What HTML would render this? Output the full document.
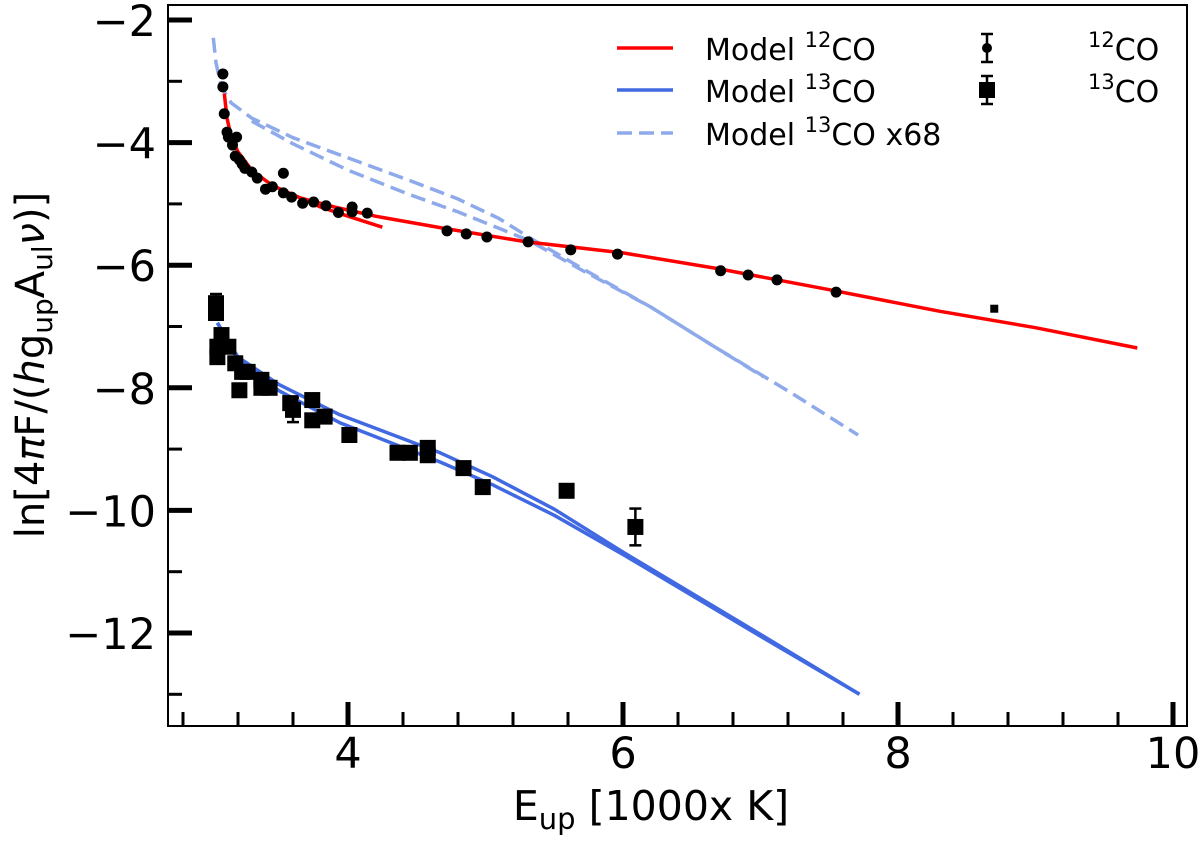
<!DOCTYPE html>
<html><head><meta charset="utf-8"><style>
body{margin:0;background:#fff}
svg{display:block;font-family:"DejaVu Sans","Liberation Sans",sans-serif}
</style></head><body>
<svg id="chart" width="1200" height="841"></svg>
<script>
const co12X=[3.09,3.09,3.10,3.12,3.13,3.19,3.16,3.18,3.21,3.23,3.25,3.30,3.34,3.40,3.45,3.53,3.53,3.59,3.67,3.75,3.84,3.93,4.03,4.03,4.14,4.72,4.86,5.01,5.31,5.62,5.96,6.71,6.91,7.12,7.55,8.70];
const co12Y=[-2.88,-3.09,-3.53,-3.83,-3.91,-3.91,-4.04,-4.22,-4.28,-4.35,-4.42,-4.48,-4.58,-4.76,-4.72,-4.50,-4.82,-4.89,-4.99,-4.97,-5.03,-5.14,-5.05,-5.13,-5.15,-5.44,-5.49,-5.54,-5.62,-5.75,-5.82,-6.09,-6.16,-6.24,-6.44,-6.71];
const co13X=[3.04,3.04,3.08,3.05,3.13,3.05,3.18,3.23,3.27,3.21,3.37,3.43,3.37,3.58,3.60,3.74,3.74,3.83,4.01,4.36,4.45,4.58,4.58,4.84,4.98,5.59,6.09];
const co13Y=[-6.62,-6.78,-7.14,-7.33,-7.33,-7.50,-7.60,-7.74,-7.74,-8.04,-7.87,-8.00,-8.00,-8.25,-8.36,-8.20,-8.53,-8.47,-8.77,-9.06,-9.06,-8.98,-9.10,-9.31,-9.62,-9.68,-10.27];
const co13Err=[0.15,0.1,0.1,0.1,0.1,0.1,0.1,0.1,0.1,0.1,0.1,0.1,0.1,0.1,0.2,0.1,0.1,0.1,0.1,0.1,0.1,0.1,0.1,0.1,0.1,0.1,0.3];
const red1X=[3.10,3.12,3.15,3.20,3.30,3.45,3.65,3.90,4.20,4.70,5.30,6.00,6.70,7.50,8.30,9.00,9.74];
const red1Y=[-3.20,-3.60,-3.90,-4.15,-4.45,-4.70,-4.90,-5.05,-5.20,-5.40,-5.62,-5.80,-6.06,-6.40,-6.75,-7.02,-7.35];
const red2X=[3.60,3.80,4.00,4.25];
const red2Y=[-4.85,-5.05,-5.20,-5.38];
const dashAX=[3.02,3.04,3.08,3.15,3.30,3.60,4.00,4.45,4.80,5.10,5.32,5.70,6.20,6.68,7.20,7.71];
const dashAY=[-2.29,-2.70,-3.10,-3.35,-3.60,-3.92,-4.25,-4.62,-4.92,-5.24,-5.55,-6.05,-6.68,-7.35,-8.05,-8.77];
const dashBX=[3.30,3.60,4.00,4.45,4.80,5.10,5.32,5.70,6.20,6.68,7.02];
const dashBY=[-3.65,-4.02,-4.45,-4.85,-5.13,-5.40,-5.60,-6.08,-6.68,-7.35,-7.82];
const blueAX=[3.05,3.20,3.50,3.94,4.67,5.05,5.50,6.00,7.02,7.72];
const blueAY=[-6.94,-7.50,-7.95,-8.44,-9.06,-9.45,-9.98,-10.68,-12.05,-13.00];
const blueBX=[3.05,3.20,3.50,3.94,4.67,5.05,5.50,6.00,7.02,7.72];
const blueBY=[-6.94,-7.55,-8.05,-8.57,-9.21,-9.58,-10.08,-10.72,-12.08,-13.00];
const xMajor=[4,6,8,10];
const xMajorLabels=["4","6","8","10"];
const yMajor=[-2,-4,-6,-8,-10,-12];
const yMajorLabels=["\u22122","\u22124","\u22126","\u22128","\u221210","\u221212"];

const L=168,R=1187,T=5,B=726;
const sx=v=>348+(v-4)*137.5;
const sy=v=>20-(v+2)*61.3;
const svg=document.getElementById('chart');
const NS='http://www.w3.org/2000/svg';
function mk(tag,attrs,parent){const e=document.createElementNS(NS,tag);for(const k in attrs)e.setAttribute(k,attrs[k]);(parent||svg).appendChild(e);return e;}
function pathD(xs,ys){return xs.map((x,i)=>(i?'L':'M')+sx(x).toFixed(1)+','+sy(ys[i]).toFixed(1)).join(' ');}

let e;
e=mk('path',{d:pathD(dashAX,dashAY),fill:'none',stroke:'#8eaaea','stroke-width':3.5,'stroke-dasharray':'15,7','stroke-linejoin':'round'});


e=mk('path',{d:pathD(dashBX,dashBY),fill:'none',stroke:'#8eaaea','stroke-width':3.5,'stroke-dasharray':'15,7','stroke-linejoin':'round'});


e=mk('path',{d:pathD(blueAX,blueAY),fill:'none',stroke:'#4169e1','stroke-width':3.5,'stroke-linejoin':'round'});


e=mk('path',{d:pathD(blueBX,blueBY),fill:'none',stroke:'#4169e1','stroke-width':3.5,'stroke-linejoin':'round'});


e=mk('path',{d:pathD(red1X,red1Y),fill:'none',stroke:'#ff0000','stroke-width':3.5,'stroke-linejoin':'round'});


e=mk('path',{d:pathD(red2X,red2Y),fill:'none',stroke:'#ff0000','stroke-width':3.5,'stroke-linejoin':'round'});



co12X.forEach((x,i)=>{
  const last=i===co12X.length-1;
  const p=last?mk('rect',{x:sx(x)-4,y:sy(co12Y[i])-4,width:8,height:8,fill:'#000'}):mk('circle',{cx:sx(x),cy:sy(co12Y[i]),r:5.5,fill:'#000'});
  
  
});
co13X.forEach((x,i)=>{
  const cx=sx(x),cy=sy(co13Y[i]),y1=sy(co13Y[i]+co13Err[i]),y2=sy(co13Y[i]-co13Err[i]);
  const g=mk('g',{});
  
  
  mk('line',{x1:cx,x2:cx,y1:y1,y2:y2,stroke:'#000','stroke-width':2.5},g);
  mk('line',{x1:cx-6,x2:cx+6,y1:y1,y2:y1,stroke:'#000','stroke-width':2.5},g);
  mk('line',{x1:cx-6,x2:cx+6,y1:y2,y2:y2,stroke:'#000','stroke-width':2.5},g);
  mk('rect',{x:cx-8,y:cy-8,width:16,height:16,fill:'#000'},g);
});

e=mk('rect',{x:L,y:T,width:R-L,height:B-T,fill:'none',stroke:'#000','stroke-width':2});



for(let v=2.8;v<10.15;v+=0.4){
  const vv=Math.round(v*10)/10;
  if(Math.abs(vv-Math.round(vv))<1e-6 && Math.round(vv)%2===0) continue;
  e=mk('line',{x1:sx(vv),x2:sx(vv),y1:B,y2:B-14,stroke:'#000','stroke-width':3});
  
  
}
xMajor.forEach((v,i)=>{
  e=mk('line',{x1:sx(v),x2:sx(v),y1:B,y2:B-24,stroke:'#000','stroke-width':5});
  
  
  e=mk('text',{x:sx(v),y:768,'font-size':43,'text-anchor':'middle'});
  e.textContent=xMajorLabels[i];
  
  
});
for(let v=-3;v>=-13;v-=2){
  e=mk('line',{x1:L,x2:L+14,y1:sy(v),y2:sy(v),stroke:'#000','stroke-width':3});
  
  
}
yMajor.forEach((v,i)=>{
  e=mk('line',{x1:L,x2:L+24,y1:sy(v),y2:sy(v),stroke:'#000','stroke-width':5});
  
  
  e=mk('text',{x:156,y:sy(v)+16,'font-size':43,'text-anchor':'end'});
  e.textContent=yMajorLabels[i];
  
  
});

e=mk('text',{x:651,y:820,'font-size':41,'text-anchor':'middle'});
e.innerHTML='E<tspan font-size="29" dy="9">up</tspan><tspan dy="-9"> [1000x K]</tspan>';


e=mk('text',{x:0,y:0,'font-size':40,'text-anchor':'middle',transform:'translate(44,365) rotate(-90)'});
e.innerHTML='ln[4<tspan font-style="italic">π</tspan>F/(<tspan font-style="italic">h</tspan>g<tspan font-size="28" dy="8">up</tspan><tspan dy="-8">A</tspan><tspan font-size="28" dy="8">ul</tspan><tspan dy="-8" font-style="italic">ν</tspan>)]';



const leg=mk('g',{});


const legItems=[[48,'#ff0000','','12'],[90,'#4169e1','','13'],[133,'#8eaaea','15,7','13']];
legItems.forEach((it,i)=>{
  const g=mk('g',{},leg);
  
  
  const ln=mk('line',{x1:617,x2:673,y1:it[0],y2:it[0],stroke:it[1],'stroke-width':3.5},g);
  if(it[2]) ln.setAttribute('stroke-dasharray',it[2]);
  const t=mk('text',{x:705,y:it[0]+12,'font-size':30},g);
  t.innerHTML='Model <tspan font-size="21" dy="-13">'+it[3]+'</tspan><tspan dy="13">CO'+(i===2?' x68':'')+'</tspan>';
});
[[48,'12',false],[90,'13',true]].forEach(it=>{
  const g=mk('g',{},leg);
  
  
  const cx=987,cy=it[0];
  mk('line',{x1:cx,x2:cx,y1:cy-14,y2:cy+14,stroke:'#000','stroke-width':2.5},g);
  mk('line',{x1:cx-6,x2:cx+6,y1:cy-14,y2:cy-14,stroke:'#000','stroke-width':2.5},g);
  mk('line',{x1:cx-6,x2:cx+6,y1:cy+14,y2:cy+14,stroke:'#000','stroke-width':2.5},g);
  if(it[2]) mk('rect',{x:cx-8,y:cy-8,width:16,height:16,fill:'#000'},g);
  else mk('circle',{cx:cx,cy:cy,r:5,fill:'#000'},g);
  const t=mk('text',{x:1088,y:cy+12,'font-size':30},g);
  t.innerHTML='<tspan font-size="21" dy="-13">'+it[1]+'</tspan><tspan dy="13">CO</tspan>';
});
</script>
</body></html>
